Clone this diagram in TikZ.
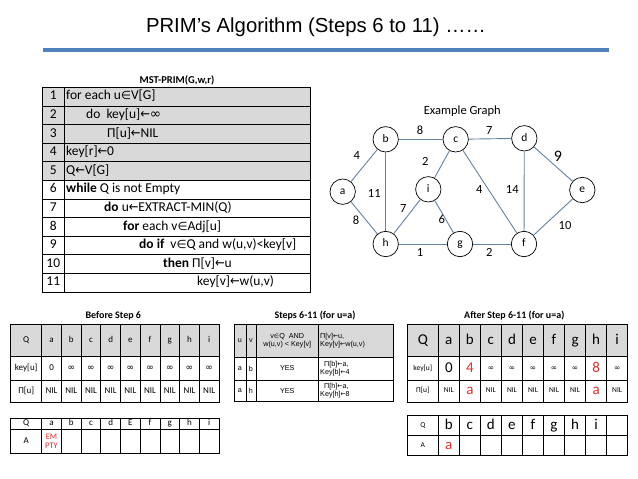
\documentclass[tikz,border=0pt]{standalone}
\usepackage{fontspec}
\setmainfont{Carlito}
\newfontfamily\arialf{Liberation Sans}
\newfontfamily\symf{DejaVu Sans}
\newcommand\lar{{\symf\scalebox{0.85}[1]{←}}}
\newcommand\inn{{\symf\scalebox{0.85}{∈}}}
\newcommand\inft{{\symf ∞}}
\newcommand\fs[1]{\fontsize{#1}{#1}\selectfont}
\definecolor{edgec}{RGB}{100,130,160}
\definecolor{hdr}{RGB}{217,217,217}
\definecolor{redt}{RGB}{225,45,45}
\definecolor{barc}{RGB}{79,129,189}
\begin{document}
\begin{tikzpicture}[x=1pt,y=-1pt,
  grid/.style={line width=0.8pt},
  codeline/.style={anchor=west,inner sep=0pt,text height=9pt,text depth=2.5pt,font=\fs{13.5}},
  numcell/.style={inner sep=0pt,text height=9pt,text depth=2.5pt,font=\fs{13.5}},
  vert/.style={circle,draw,line width=0.7pt,minimum size=25.4pt,inner sep=0pt,text height=7.5pt,text depth=2pt,font=\fs{11.5}},
  wlab/.style={inner sep=0pt,font=\fs{12.5}},
  edge/.style={draw=edgec,line width=0.9pt},
  sectitle/.style={inner sep=0pt,font=\bfseries\fs{10}},
  cellA/.style={inner sep=0pt,text height=6.5pt,text depth=2pt,font=\fs{9}},
  big/.style={inner sep=0pt,text height=11pt,text depth=3.5pt,font=\fs{15}},
  small/.style={inner sep=0pt,text height=5pt,text depth=1.5pt,font=\fs{7.5}},
  mid/.style={inner sep=0pt,font={\arialf\fontsize{7.2}{8.2}\selectfont},align=center}
]
\useasboundingbox (0,0) rectangle (638,479);
\fill[white] (0,0) rectangle (638,479);

% title
\node[inner sep=0pt,font=\arialf\fs{20.3}] (title) at (316,27) {PRIM’s Algorithm (Steps 6 to 11) ……};
\fill[barc] (43,47.5) rectangle (609,51.5);

% algorithm table
\node[inner sep=0pt,font=\bfseries\fs{10.5}] (algtitle) at (177,80) {MST-PRIM(G,w,r)};
\fill[hdr] (42.7,87.3) rectangle (310,180.3);
\draw[grid] (42.7,87.3) rectangle (310,292);
\foreach \i in {1,...,10} \draw[grid] (42.7,{87.3+\i*18.6}) -- (310,{87.3+\i*18.6});
\draw[grid] (64,87.3) -- (64,292);
\foreach \i in {1,...,11} \node[numcell] (num\i) at (53.3,{87.3+(\i-0.5)*18.6}) {\i};
\node[codeline] (l1) at (66,{87.3+0.5*18.6}) {for each u\inn V[G]};
\node[codeline] (l2) at (86,{87.3+1.5*18.6}) {do\ \ key[u]\lar\inft};
\node[codeline] (l3) at (107,{87.3+2.5*18.6}) {Π[u]\lar NIL};
\node[codeline] (l4) at (66,{87.3+3.5*18.6}) {key[r]\lar 0};
\node[codeline] (l5) at (66,{87.3+4.5*18.6}) {Q\lar V[G]};
\node[codeline] (l6) at (66,{87.3+5.5*18.6}) {\textbf{while} Q is not Empty};
\node[codeline] (l7) at (104,{87.3+6.5*18.6}) {\textbf{do} u\lar EXTRACT-MIN(Q)};
\node[codeline] (l8) at (123,{87.3+7.5*18.6}) {\textbf{for} each v\inn Adj[u]};
\node[codeline] (l9) at (139,{87.3+8.5*18.6}) {\textbf{do if}\ \ v\inn Q and w(u,v)<key[v]};
\node[codeline] (l10) at (163,{87.3+9.5*18.6}) {\textbf{then} Π[v]\lar u};
\node[codeline] (l11) at (197,{87.3+10.5*18.6}) {key[v]\lar w(u,v)};

% graph
\node[inner sep=0pt,font=\fs{12.5}] (gtitle) at (462.3,110.7) {Example Graph};
\node[vert] (a) at (342.7,191.7) {a};
\node[vert] (b) at (385.7,139.3) {b};
\node[vert] (c) at (455.7,139.3) {c};
\node[vert] (d) at (524.3,138.3) {d};
\node[vert] (e) at (582.3,190) {e};
\node[vert] (i) at (428.3,189.3) {i};
\node[vert] (h) at (385.7,244) {h};
\node[vert] (g) at (460,244) {g};
\node[vert] (f) at (524,244) {f};
\draw[edge] (a) -- (b);
\draw[edge] (a) -- (h);
\draw[edge] (b) -- (h);
\draw[edge] (b) -- (c);
\draw[edge] (c) -- (d);
\draw[edge] (c) -- (i);
\draw[edge] (c) -- (f);
\draw[edge] (i) -- (h);
\draw[edge] (i) -- (g);
\draw[edge] (h) -- (g);
\draw[edge] (g) -- (f);
\draw[edge] (d) -- (f);
\draw[edge] (d) -- (e);
\draw[edge] (e) -- (f);
\node[wlab] (wab) at (356.7,155.7) {4};
\node[wlab] (wah) at (356,220) {8};
\node[wlab] (wbh) at (374.3,193.3) {11};
\node[wlab] (wbc) at (420,130) {8};
\node[wlab] (wcd) at (489.3,130) {7};
\node[wlab] (wci) at (425.3,161) {2};
\node[wlab] (whi) at (403.3,208.3) {7};
\node[wlab] (wig) at (441.7,219.3) {6};
\node[wlab] (wcf) at (479.3,189) {4};
\node[wlab] (wdf) at (512.3,189) {14};
\node[wlab,font=\fs{16}] (wde) at (558,156.7) {9};
\node[wlab] (wef) at (565,225.7) {10};
\node[wlab] (whg) at (420,252.3) {1};
\node[wlab] (wgf) at (489.3,252.3) {2};

% ---------- Before Step 6 ----------
\node[sectitle] (t1) at (113.3,315.7) {Before Step 6};
\fill[hdr] (10.7,324) rectangle (219,356.7);
\draw[grid] (10.7,324) rectangle (219,402.3);
\draw[grid] (10.7,356.7) -- (219,356.7);
\draw[grid] (10.7,380) -- (219,380);
\foreach \k in {0,...,8} \draw[grid] ({41.7+19.7*\k},324) -- ({41.7+19.7*\k},402.3);
\node[cellA] (bq0) at (26.2,340.3) {Q};
\node[cellA] (bk0) at (26.2,368.3) {key[u]};
\node[cellA] (bp0) at (26.2,391.2) {Π[u]};
\foreach \l [count=\k] in {a,b,c,d,e,f,g,h,i}
  \node[cellA] (bq\k) at ({41.7+19.7*(\k-0.5)},340.3) {\l};
\node[cellA] (bk1) at ({41.7+19.7*0.5},368.3) {0};
\foreach \k in {2,...,9}
  \node[cellA] (bk\k) at ({41.7+19.7*(\k-0.5)},368.3) {\inft};
\foreach \k in {1,...,9}
  \node[cellA] (bp\k) at ({41.7+19.7*(\k-0.5)},391.2) {NIL};
\draw[grid] (10.7,418.3) rectangle (219,453.3);
\draw[grid] (10.7,429) -- (219,429);
\foreach \k in {0,...,8} \draw[grid] ({41.7+19.7*\k},418.3) -- ({41.7+19.7*\k},453.3);
\node[cellA] (bqq0) at (26.2,423.7) {Q};
\node[cellA] (ba0) at (26.2,441.2) {A};
\foreach \l [count=\k] in {a,b,c,d,E,f,g,h,i}
  \node[cellA] (bqq\k) at ({41.7+19.7*(\k-0.5)},423.7) {\l};
\node[inner sep=0pt,text=redt,align=center,font={\fontsize{8.5}{9.5}\selectfont}] (ba1) at ({41.7+19.7*0.5},441.2) {EM\\PTY};

% ---------- Steps 6-11 ----------
\node[sectitle] (t2) at (315,315.7) {Steps 6-11 (for u=a)};
\fill[hdr] (234,324) rectangle (393.5,357);
\draw[grid] (234,324) rectangle (393.5,401.5);
\draw[grid] (234,357) -- (393.5,357);
\draw[grid] (234,380) -- (393.5,380);
\foreach \xx in {246,256,318.5} \draw[grid] (\xx,324) -- (\xx,401.5);
\node[mid] (mu0) at (240,340.5) {u};
\node[mid] (mv0) at (251,340.5) {v};
\node[mid] (mc0) at (287.25,340.5) {v\inn Q\ \ AND\\w(u,v) \textless{} Key[v]};
\node[mid,align=left,anchor=west] (ma0) at (320,340.5) {Π[v]\lar u,\\Key[v]\lar w(u,v)};
\node[mid] (mu1) at (240,368.5) {a};
\node[mid] (mv1) at (251,368.5) {b};
\node[mid] (mc1) at (287.25,368.5) {YES};
\node[mid,align=left,anchor=west] (ma1) at (320,368.5) {\hspace{4pt}Π[b]\lar a,\\Key[b]\lar 4};
\node[mid] (mu2) at (240,390.75) {a};
\node[mid] (mv2) at (251,390.75) {h};
\node[mid] (mc2) at (287.25,390.75) {YES};
\node[mid,align=left,anchor=west] (ma2) at (320,390.75) {\hspace{4pt}Π[h]\lar a,\\Key[h]\lar 8};

% ---------- After Step 6-11 ----------
\node[sectitle] (t3) at (514.3,315.7) {After Step 6-11 (for u=a)};
\fill[hdr] (407.3,324) rectangle (627.7,356.7);
\draw[grid] (407.3,324) rectangle (627.7,402.3);
\draw[grid] (407.3,356.7) -- (627.7,356.7);
\draw[grid] (407.3,380) -- (627.7,380);
\foreach \k in {0,...,8} \draw[grid] ({438.3+21.04*\k},324) -- ({438.3+21.04*\k},402.3);
\node[big] (aq0) at (422.8,340.3) {Q};
\node[small] (ak0) at (422.8,368.3) {key[u]};
\node[small] (ap0) at (422.8,391.2) {Π[u]};
\foreach \l [count=\k] in {a,b,c,d,e,f,g,h,i}
  \node[big] (aq\k) at ({438.3+21.04*(\k-0.5)},340.3) {\l};
\foreach \k in {3,4,5,6,7,9}
  \node[small] (ak\k) at ({438.3+21.04*(\k-0.5)},368.3) {\inft};
\node[big] (ak1) at ({438.3+21.04*0.5},368.3) {0};
\node[big,text=redt] (ak2) at ({438.3+21.04*1.5},368.3) {4};
\node[big,text=redt] (ak8) at ({438.3+21.04*7.5},368.3) {8};
\foreach \k in {1,3,4,5,6,7,9}
  \node[small] (ap\k) at ({438.3+21.04*(\k-0.5)},391.2) {NIL};
\node[big,text=redt] (ap2) at ({438.3+21.04*1.5},391.2) {a};
\node[big,text=redt] (ap8) at ({438.3+21.04*7.5},391.2) {a};
\draw[grid] (407.3,415) rectangle (627.7,455);
\draw[grid] (407.3,435.7) -- (627.7,435.7);
\foreach \k in {0,...,8} \draw[grid] ({438.3+21.04*\k},415) -- ({438.3+21.04*\k},455);
\node[small] (aqq0) at (422.8,425.3) {Q};
\node[small] (aa0) at (422.8,445.3) {A};
\foreach \l [count=\k] in {b,c,d,e,f,g,h,i}
  \node[big] (aqq\k) at ({438.3+21.04*(\k-0.5)},425.3) {\l};
\node[big,text=redt] (aa1) at ({438.3+21.04*0.5},445.3) {a};
\end{tikzpicture}
\end{document}
